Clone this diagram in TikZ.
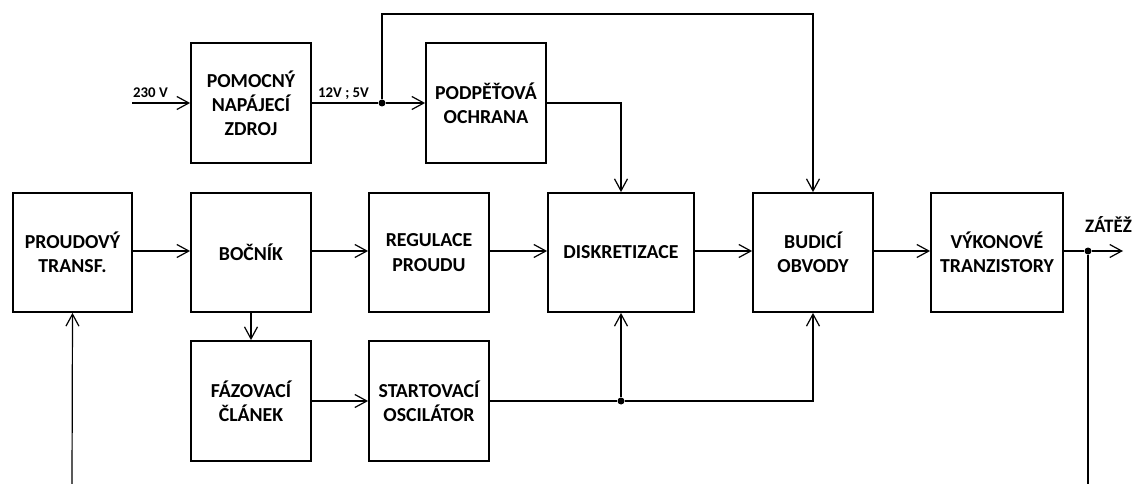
\documentclass[tikz,border=0pt]{standalone}
\usepackage{fontspec}
\setmainfont{Carlito}
\usetikzlibrary{arrows.meta}
\tikzset{
  blk/.style={draw, line width=1.8pt, minimum width=120pt, minimum height=120pt, inner sep=0pt,
    align=center, font=\fontsize{19.8}{24.2}\selectfont\bfseries},
  conn/.style={line width=1.2pt, -{Straight Barb[length=12pt,width=13pt,line width=1.2pt]}},
  wire/.style={line width=1.2pt},
  lbl/.style={inner sep=0pt, font=\fontsize{14.8}{17}\selectfont\bfseries},
  dot/.style={circle, fill=black, inner sep=0pt, minimum size=7pt}
}
\begin{document}
\begin{tikzpicture}[x=1pt,y=-1pt]
\useasboundingbox (0,0) rectangle (1136,484);
\node[blk] (pom) at (251,103) {POMOCNÝ\\NAPÁJECÍ\\ZDROJ};
\node[blk] (pod) at (486,103) {PODPĚŤOVÁ\\OCHRANA};
\node[blk, minimum width=119pt, minimum height=119pt] (pt) at (72.5,252.5) {PROUDOVÝ\\TRANSF.};
\node[blk, minimum height=119pt] (boc) at (251,252.5) {BOČNÍK};
\node[blk, minimum height=119pt] (reg) at (429,252.5) {REGULACE\\PROUDU};
\node[blk, minimum width=146pt, minimum height=119pt] (dis) at (621,252.5) {DISKRETIZACE};
\node[blk, minimum height=119pt] (bud) at (813,252.5) {BUDICÍ\\OBVODY};
\node[blk, minimum width=132pt, minimum height=119pt] (vyk) at (997,252.5) {VÝKONOVÉ\\TRANZISTORY};
\node[blk] (faz) at (251,401) {FÁZOVACÍ\\ČLÁNEK};
\node[blk] (sta) at (429,401) {STARTOVACÍ\\OSCILÁTOR};

\coordinate (in) at (132,103);
\node[dot] (j1) at (382,103) {};
\node[dot] (j2) at (621,401) {};
\node[dot] (j3) at (1088,251) {};
\coordinate (out) at (1123,251);
\coordinate (ptin) at (72,484);
\coordinate (vykbot) at (1088,484);

\node[lbl, anchor=base west] (l230) at (133,98) {230 V};
\node[lbl, anchor=base west] (l12) at (318,98) {12V ; 5V};
\node[lbl, anchor=base west, font=\fontsize{19}{22}\selectfont\bfseries] (lz) at (1085,233) {ZÁTĚŽ};

\draw[conn] (in) -- (pom.west);
\draw[wire] (pom.east) -- (j1);
\draw[conn] (j1) -- (pod.west);
\draw[conn] (j1) |- (813,14) -- (bud.north);
\draw[conn] (pod.east) -| (dis.north);

\draw[conn] (pt.east |- 0,251) -- (boc.west |- 0,251);
\draw[conn] (boc.east |- 0,251) -- (reg.west |- 0,251);
\draw[conn] (reg.east |- 0,251) -- (dis.west |- 0,251);
\draw[conn] (dis.east |- 0,251) -- (bud.west |- 0,251);
\draw[conn] (bud.east |- 0,251) -- (vyk.west |- 0,251);
\draw[wire] (vyk.east |- 0,251) -- (j3);
\draw[conn] (j3) -- (out);
\draw[wire] (j3) -- (vykbot);

\draw[conn] (boc.south) -- (faz.north);
\draw[conn] (faz.east) -- (sta.west);
\draw[wire] (sta.east) -- (j2);
\draw[conn] (j2) -- (dis.south);
\draw[conn] (j2) -| (bud.south);
\draw[conn] (ptin) -- (pt.south);
\end{tikzpicture}
\end{document}
